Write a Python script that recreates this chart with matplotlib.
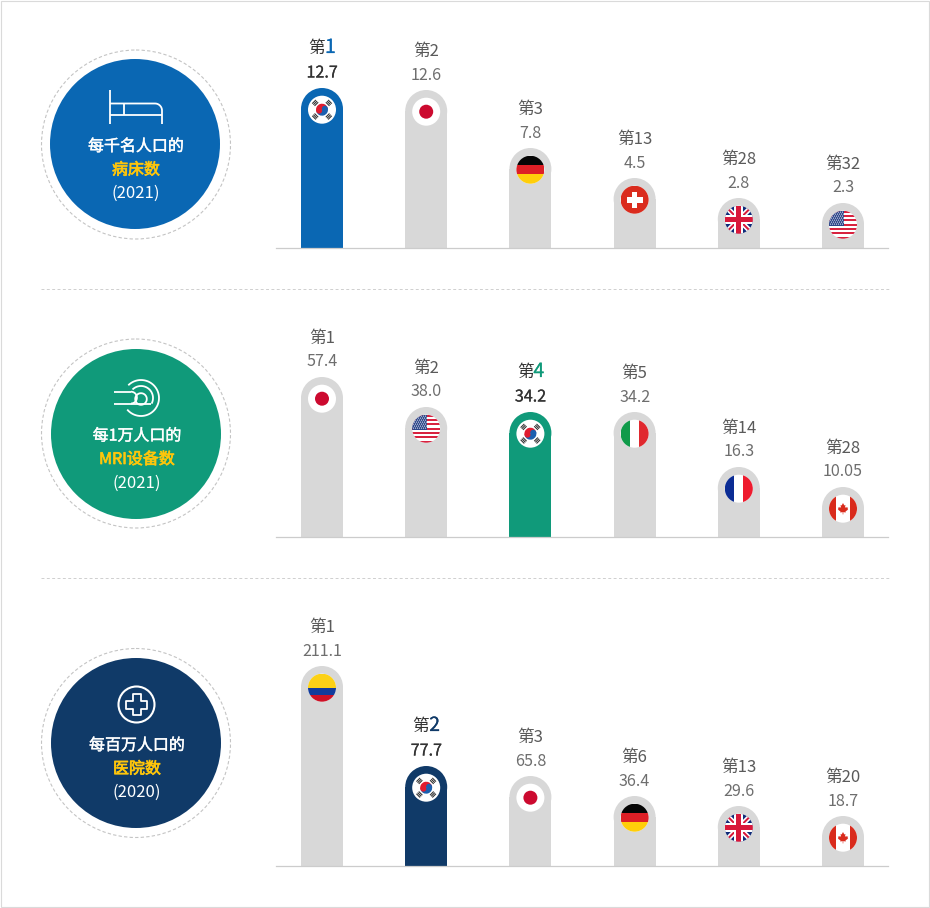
import numpy as np
import matplotlib
matplotlib.use("Agg")
import matplotlib.pyplot as plt
from matplotlib.patches import Circle, Rectangle, Wedge, Polygon
import matplotlib.patheffects as pe

plt.rcParams['font.family'] = ['Noto Sans CJK SC', 'DejaVu Sans']

# ---- data ----
beds_countries = ['KR', 'JP', 'DE', 'CH', 'GB', 'US']
beds_ranks = [1, 2, 3, 13, 28, 32]
beds_values = [12.7, 12.6, 7.8, 4.5, 2.8, 2.3]
beds_heights = [160, 158, 100, 70, 50, 45]

mri_countries = ['JP', 'US', 'KR', 'IT', 'FR', 'CA']
mri_ranks = [1, 2, 4, 5, 14, 28]
mri_values = [57.4, 38.0, 34.2, 34.2, 16.3, 10.05]
mri_heights = [160, 130, 125, 125, 70, 50]

hosp_countries = ['CO', 'KR', 'JP', 'DE', 'GB', 'CA']
hosp_ranks = [1, 2, 3, 6, 13, 20]
hosp_values = [211.1, 77.7, 65.8, 36.4, 29.6, 18.7]
hosp_heights = [200, 100, 90, 70, 60, 50]

titles = [['每千名人口的', '病床数', '(2021)'],
          ['每1万人口的', 'MRI设备数', '(2021)'],
          ['每百万人口的', '医院数', '(2020)']]

BLUE, GREEN, NAVY = '#0A67B3', '#109A7A', '#103A68'
GOLD = '#FFC60B'
GRAY = '#D8D8D8'

W, H = 930, 908
fig = plt.figure(figsize=(W / 100, H / 100), dpi=100, facecolor='white')
bg = fig.add_axes([0, 0, 1, 1])
bg.set_xlim(0, W)
bg.set_ylim(H, 0)
bg.axis('off')
bg.add_patch(Rectangle((0.5, 0.5), W - 1.5, H - 1.5, fc='none', ec='#DADADA', lw=0.8, clip_on=False))
for y in (289, 578):
    bg.plot([41, 889], [y, y], color='#CFCFCF', lw=0.7, ls=(0, (3, 2.5)))


def medium(t, w=0.3):
    t.set_path_effects([pe.withStroke(linewidth=w, foreground=t.get_color())])
    return t


# ---- left badges ----
def badge(cx, cy, dcx, dcy, color, lines, ty):
    bg.add_patch(Circle((dcx, dcy), 94.5, fc='none', ec='#C4C4C4', lw=0.8, ls=(0, (3, 2))))
    bg.add_patch(Circle((cx, cy), 85, fc=color, ec='none'))
    medium(bg.text(cx + 1, ty, lines[0], color='white', fontsize=11.5, ha='center', va='center'))
    medium(bg.text(cx + 1, ty + 23.5, lines[1], color=GOLD, fontsize=11.5, ha='center', va='center'), 0.5)
    bg.text(cx + 1, ty + 47, lines[2], color='white', fontsize=12, ha='center', va='center')


badge(135, 144, 136, 144.5, BLUE, titles[0], 146.5)
badge(136, 434, 136, 433.5, GREEN, titles[1], 436)
badge(136, 743, 136, 743, NAVY, titles[2], 745.5)

ic = dict(color='white', lw=1.3, solid_capstyle='butt')
# bed icon
bg.plot([110, 110], [90, 124], **ic)
t = np.linspace(0, np.pi / 2, 12)
bg.plot(np.r_[110, 155 + 7 * np.sin(t), 162], np.r_[103.5, 110.5 - 7 * np.cos(t), 124], **ic)
bg.plot([110, 162], [114.5, 114.5], **ic)
bg.plot([124, 124], [103.5, 114.5], **ic)


# scanner icon
def arc(cx, cy, r, a0, a1):
    th = np.radians(np.linspace(a0, a1, 50))
    bg.plot(cx + r * np.cos(th), cy - r * np.sin(th), **ic)


mx, my = 141, 398
arc(mx, my, 18, 135, -140)
arc(mx, my, 12, 135, -28)
arc(mx, my + 1, 5.8, 0, 360)
bg.plot([114, 131], [391.7, 391.7], **ic)
bg.plot([114, 151], [403.5, 403.5], **ic)
arc(131, 397.6, 5.9, 90, -90)
# hospital icon
hx, hy = 136.5, 704.5
bg.add_patch(Circle((hx, hy), 18, fc='none', ec='white', lw=1.5))
a, b = 4, 10.5
bg.add_patch(Polygon([(hx + p, hy + q) for p, q in
                      [(-a, -b), (a, -b), (a, -a), (b, -a), (b, a), (a, a), (a, b), (-a, b), (-a, a),
                       (-b, a), (-b, -a), (-a, -a)]],
                     closed=True, fc='none', ec='white', lw=1.3, joinstyle='round'))


# ---- flags ----
R = 14


def flag(ax, code, cx, cy):
    disc = Circle((cx, cy), R, fc='white', ec='none', zorder=3)
    ax.add_patch(disc)

    def rect(x0, y0, x1, y1, c):
        p = Rectangle((cx + x0, cy + y0), x1 - x0, y1 - y0, fc=c, ec='none', zorder=4)
        ax.add_patch(p)
        p.set_clip_path(disc)
        return p

    def poly(pts, c, z=4):
        p = Polygon([(cx + u, cy + v) for u, v in pts], closed=True, fc=c, ec='none', zorder=z)
        ax.add_patch(p)
        p.set_clip_path(disc)
        return p

    def band(x0, y0, x1, y1, w, c):
        n = np.array([-(y1 - y0), x1 - x0], float)
        n = n / np.hypot(*n) * w / 2
        poly([(x0 + n[0], y0 + n[1]), (x1 + n[0], y1 + n[1]), (x1 - n[0], y1 - n[1]), (x0 - n[0], y0 - n[1])], c, 4)

    if code == 'JP':
        ax.add_patch(Circle((cx, cy), 7, fc='#CC0A2F', ec='none', zorder=4))
    elif code == 'KR':
        tilt = 18
        ax.add_patch(Wedge((cx, cy), 6, tilt, tilt + 180, fc='#E01B2F', ec='none', zorder=4))
        ax.add_patch(Wedge((cx, cy), 6, tilt + 180, tilt + 360, fc='#1B5FAF', ec='none', zorder=4))
        d = np.array([np.cos(np.radians(tilt)), np.sin(np.radians(tilt))]) * 3
        ax.add_patch(Circle((cx - d[0], cy - d[1]), 3, fc='#E01B2F', ec='none', zorder=5))
        ax.add_patch(Circle((cx + d[0], cy + d[1]), 3, fc='#1B5FAF', ec='none', zorder=5))
        for ang in (45, 135, 225, 315):
            ra = np.radians(ang)
            u = np.array([np.cos(ra), np.sin(ra)])
            v = np.array([-u[1], u[0]])
            for k in (8.0, 9.6, 11.2):
                c0 = u * k
                band(*(c0 - v * 2.6), *(c0 + v * 2.6), 1.1, '#333333')
    elif code == 'DE':
        rect(-R, R / 3, R, R, '#050505')
        rect(-R, -R / 3, R, R / 3, '#DD1F26')
        rect(-R, -R, R, -R / 3, '#FFCE0A')
    elif code == 'CO':
        rect(-R, 0, R, R, '#FCD116')
        rect(-R, -7, R, 0, '#123C9C')
        rect(-R, -R, R, -7, '#CE1126')
    elif code == 'CH':
        rect(-R, -R, R, R, '#DA2C1E')
        rect(-8, -2.8, 8, 2.8, 'white')
        rect(-2.8, -8, 2.8, 8, 'white')
    elif code == 'IT':
        rect(-R, -R, -14 / 3, R, '#109A4A')
        rect(14 / 3, -R, R, R, '#E0282E')
    elif code == 'FR':
        rect(-R, -R, -14 / 3, R, '#0B2C94')
        rect(14 / 3, -R, R, R, '#EE1B2E')
    elif code == 'CA':
        rect(-R, -R, -7, R, '#D92B1C')
        rect(7, -R, R, R, '#D92B1C')
        leaf = [(0, 6), (-1.4, 3.4), (-2.6, 4), (-2, 0.8), (-3.4, 2), (-3.8, 1), (-5.4, 1.3), (-4.8, -0.4),
                (-5.4, -0.9), (-2.6, -3), (-3, -4), (-0.3, -3.6), (-0.3, -6), (0.3, -6), (0.3, -3.6),
                (3, -4), (2.6, -3), (5.4, -0.9), (4.8, -0.4), (5.4, 1.3), (3.8, 1), (3.4, 2), (2, 0.8),
                (2.6, 4), (1.4, 3.4)]
        poly([(x * 0.95, y * 0.95) for x, y in leaf], '#D92B1C')
    elif code == 'GB':
        rect(-R, -R, R, R, '#0F2A78')
        band(-R, -R, R, R, 5.2, 'white')
        band(-R, R, R, -R, 5.2, 'white')
        band(-R, -R, R, R, 2, '#D8183A')
        band(-R, R, R, -R, 2, '#D8183A')
        rect(-R, -4.4, R, 4.4, 'white')
        rect(-4.4, -R, 4.4, R, 'white')
        rect(-R, -2.6, R, 2.6, '#D8183A')
        rect(-2.6, -R, 2.6, R, '#D8183A')
    elif code == 'US':
        h = 2 * R / 13
        for i in range(13):
            if i % 2 == 0:
                rect(-R, R - (i + 1) * h, R, R - i * h, '#D8223F')
        rect(-R, R - 7 * h, 0.5, R, '#2B4589')
        for i in range(7):
            for j in range(7):
                s = Circle((cx - 12.6 + j * 2 + (i % 2), cy + 12.6 - i * 2), 0.55, fc='white', ec='none', zorder=5)
                ax.add_patch(s)
                s.set_clip_path(disc)


# ---- bar panels ----
def panel(base_y, countries, ranks, values, heights, highlight, hcolor):
    ph = 252
    ax = fig.add_axes([276 / W, (H - base_y) / H, 612 / W, ph / H])
    ax.patch.set_alpha(0)
    ax.set_xlim(-46, 566)
    ax.set_ylim(0, ph)
    ax.set_xticks([])
    ax.set_yticks([])
    for s in ('top', 'left', 'right'):
        ax.spines[s].set_visible(False)
    ax.spines['bottom'].set_color('#CCCCCC')
    ax.spines['bottom'].set_linewidth(0.9)
    step = 104.2
    r = 21
    for i, code in enumerate(countries):
        x = i * step
        top = heights[i]
        col = hcolor if code == highlight else GRAY
        ax.bar(x, top - r, width=2 * r, color=col, zorder=2)
        ax.add_patch(Circle((x, top - r), r, fc=col, ec='none', zorder=2))
        flag(ax, code, x, top - 21.7)
        if code == highlight:
            ax.text(x + 3, top + 39.5, '第', color='#333333', fontsize=12, ha='right', va='center')
            medium(ax.text(x + 3, top + 40.5, str(ranks[i]), color=hcolor, fontsize=14, ha='left', va='center'), 0.15)
            medium(ax.text(x, top + 15, str(values[i]), color='#333333', fontsize=11.6, ha='center', va='center'), 0.15)
        else:
            ax.text(x, top + 39, f'第{ranks[i]}', color='#5A5A5A', fontsize=12, ha='center', va='center')
            ax.text(x, top + 15, str(values[i]), color='#6E6E6E', fontsize=11.6, ha='center', va='center')


panel(248, beds_countries, beds_ranks, beds_values, beds_heights, 'KR', BLUE)
panel(537, mri_countries, mri_ranks, mri_values, mri_heights, 'KR', GREEN)
panel(866, hosp_countries, hosp_ranks, hosp_values, hosp_heights, 'KR', NAVY)

fig.savefig('out.png', dpi=100, facecolor='white')
